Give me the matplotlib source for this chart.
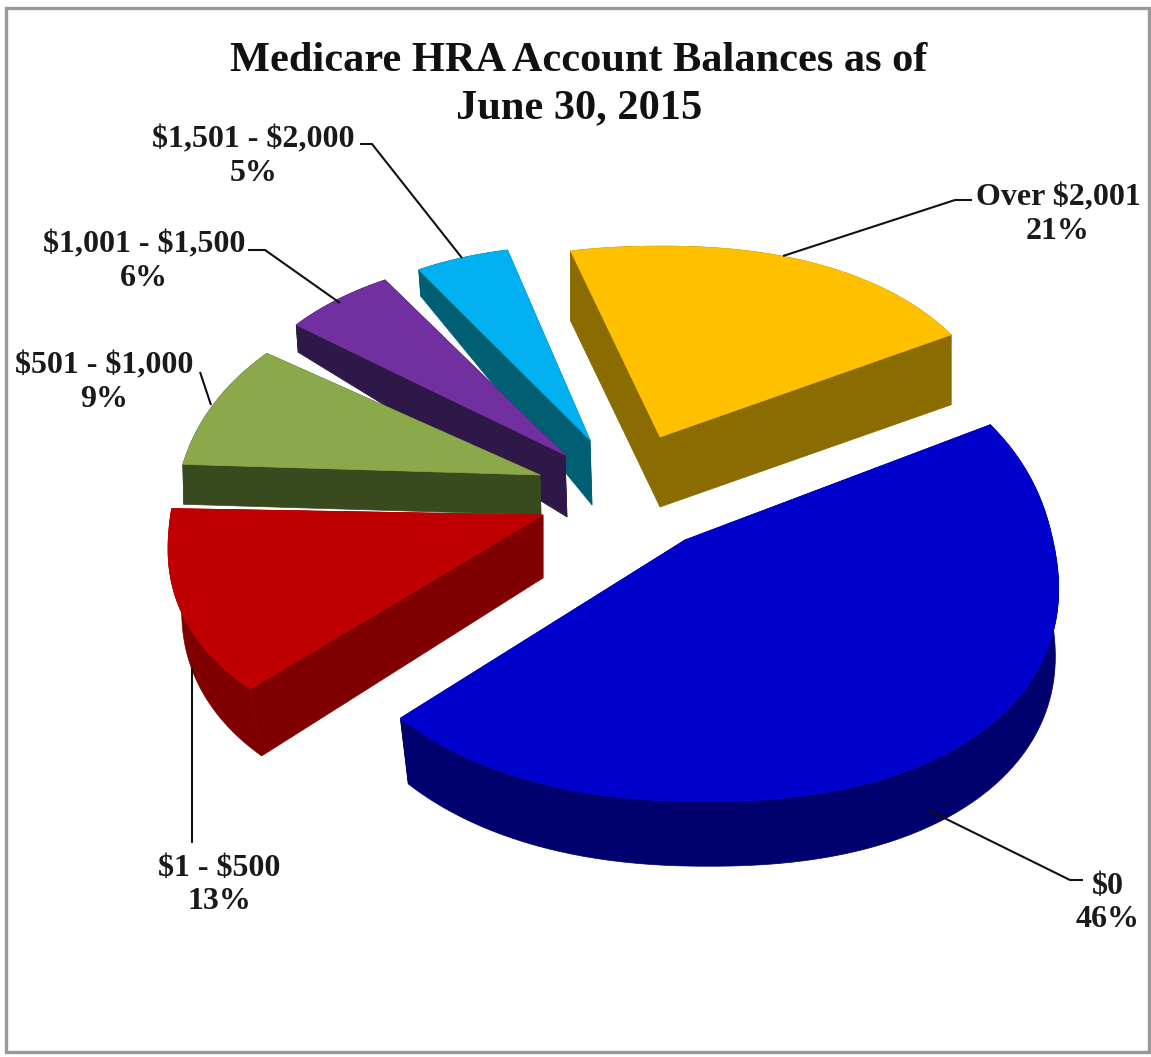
import numpy as np
import matplotlib
matplotlib.use("Agg")
import matplotlib.pyplot as plt
from matplotlib.patches import Polygon, Rectangle

# Balance bands and their share of accounts, clockwise from the largest band
categories = ["$0", "$1 - $500", "$501 - $1,000", "$1,001 - $1,500", "$1,501 - $2,000", "Over $2,001"]
shares = [46, 13, 9, 6, 5, 21]

top_colors = ["#0000CC", "#C00000", "#8BA84B", "#7030A0", "#00B0F0", "#FFC000"]
side_colors = ["#00006E", "#800000", "#3A4A1F", "#2E1848", "#005F73", "#8B6C00"]

# Pixel layout of each exploded slice: upper surface and lower surface of the solid
top_apex = [(685, 540), (543, 515), (540, 475), (565, 455), (590, 440), (660, 437)]
top_radii = [(352, 238), (358, 216), (347, 218), (332, 218), (316, 212), (328, 208)]
bottom_apex = [(688, 608), (543, 578), (541, 515), (567, 517), (592, 505), (660, 507)]
bottom_radii = [(346, 235), (345, 222), (347, 218), (332, 276), (316, 260), (328, 208)]
# Per-slice shear (x by y offset, y by x offset) standing in for the oblique view
shear = [(0.08, 0), (0.07, -0.04), (-0.06, -0.03), (0, 0), (0, 0), (0.02, -0.005)]

label_xy = [(1108, 903), (219, 885), (104.5, 383), (144, 262), (253.5, 157), (1058, 215)]
leader_paths = [
    [(928, 810), (1070, 880), (1083, 880)],
    [(192, 668), (192, 843)],
    [(211, 405), (200, 372)],
    [(340, 303), (265, 250), (248, 250)],
    [(462, 258), (372, 144), (360, 144)],
    [(783, 256), (955, 200), (972, 200)],
]

START_ANGLE = 28.0
PERSPECTIVE = 0.09
ROUNDNESS = 0.9  # below 1 fattens the disc outline between its axes
SERIF = "Liberation Serif"


def rim(apex, radii, skew, a0, a1, n=90):
    """Screen points of the arc between two disc angles, with mild foreshortening."""
    t = np.radians(np.linspace(a0, a1, n))
    u = np.sign(np.cos(t)) * np.abs(np.cos(t)) ** ROUNDNESS
    v = np.sign(np.sin(t)) * np.abs(np.sin(t)) ** ROUNDNESS
    w = 1 + PERSPECTIVE * v
    dx = radii[0] * u / w * (1 + PERSPECTIVE * 0.5)
    dy = -radii[1] * v / w
    return np.column_stack([apex[0] + dx + skew[0] * dy, apex[1] + dy + skew[1] * dx])


fig = plt.figure(figsize=(11.51, 10.57), dpi=100, facecolor="white")
ax = fig.add_axes([0, 0, 1, 1])
ax.set_xlim(0, 1151)
ax.set_ylim(1057, 0)
ax.axis("off")

ax.add_patch(Rectangle((6, 8), 1143, 1044, fill=False, edgecolor="#999999", linewidth=2.4))

sweeps = np.array(shares) / sum(shares) * 360.0
ends = START_ANGLE - np.cumsum(sweeps)
starts = ends + sweeps

# Far slices first so nearer solids paint over them
for i in [4, 3, 2, 5, 1, 0]:
    top_arc = rim(top_apex[i], top_radii[i], shear[i], starts[i], ends[i])
    bot_arc = rim(bottom_apex[i], bottom_radii[i], shear[i], starts[i], ends[i])
    side = side_colors[i]
    ax.add_patch(Polygon(np.vstack([top_arc, bot_arc[::-1]]), closed=True, fc=side, ec=side, lw=0.5))
    for t_end, b_end in ((top_arc[0], bot_arc[0]), (top_arc[-1], bot_arc[-1])):
        face = [top_apex[i], t_end, b_end, bottom_apex[i]]
        ax.add_patch(Polygon(face, closed=True, fc=side, ec=side, lw=0.5))
    ax.add_patch(Polygon(np.vstack([[top_apex[i]], top_arc]), closed=True,
                         fc=top_colors[i], ec=top_colors[i], lw=0.5))

for path in leader_paths:
    xs, ys = zip(*path)
    ax.plot(xs, ys, color="#111111", lw=1.5, solid_capstyle="butt")

for (x, y), name, share in zip(label_xy, categories, shares):
    ax.text(x, y, f"{name}\n{share}%", ha="center", va="center", family=SERIF, parse_math=False,
            fontweight="bold", fontsize=23, linespacing=1.2, color="#1a1a1a")

ax.text(579, 84.5, "Medicare HRA Account Balances as of\nJune 30, 2015", ha="center", va="center",
        family=SERIF, fontweight="bold", fontsize=30.5, linespacing=1.3, color="#111111")

fig.savefig("out.png", dpi=100, facecolor="white")
